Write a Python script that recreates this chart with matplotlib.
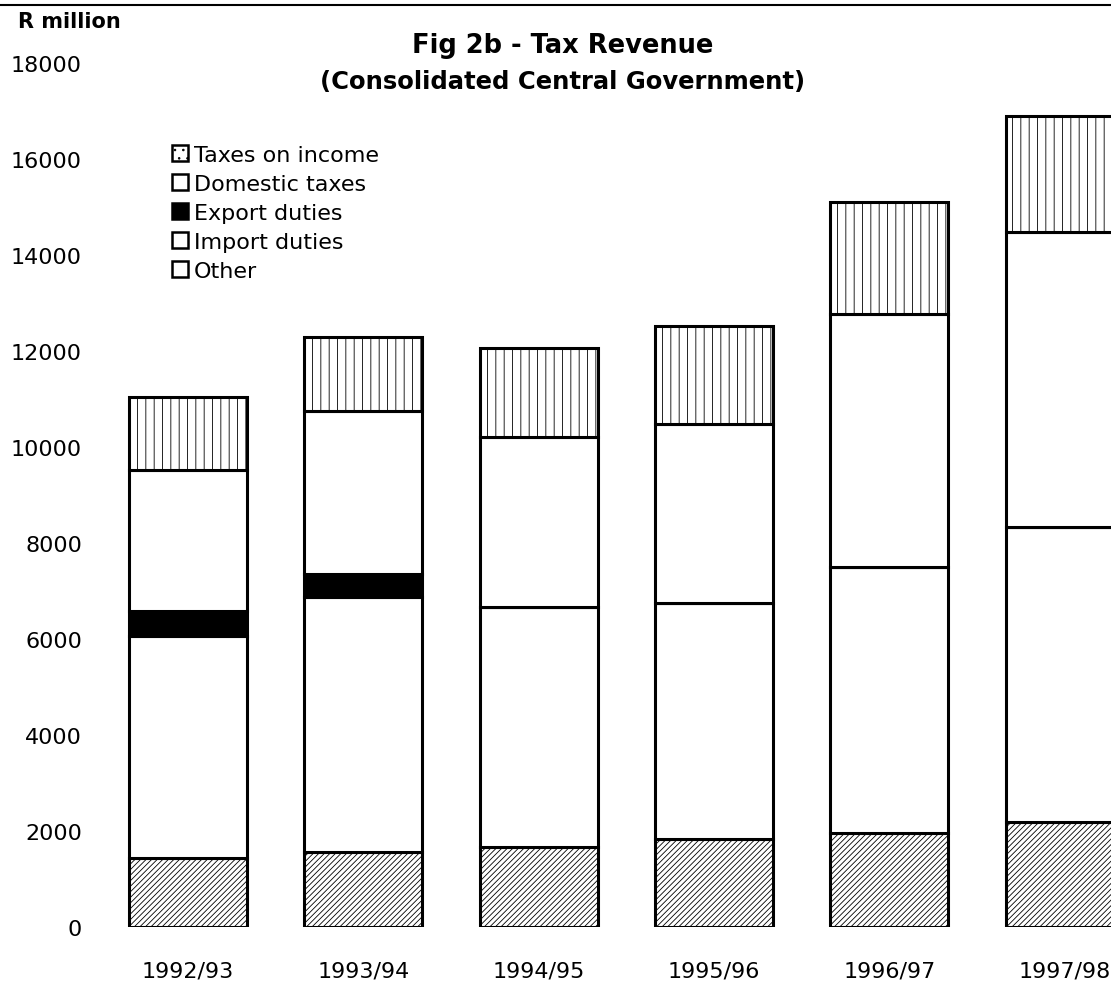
import matplotlib
matplotlib.use("Agg")
import matplotlib.pyplot as plt
from matplotlib.patches import Patch
from matplotlib.lines import Line2D
import numpy as np

plt.rcParams['font.family'] = ['DejaVu Sans']
plt.rcParams['hatch.linewidth'] = 0.6

categories = ["1992/93", "1993/94", "1994/95", "1995/96", "1996/97", "1997/98"]
other = [1440, 1560, 1670, 1830, 1960, 2190]
import_duties = [4620, 5315, 5000, 4920, 5540, 6140]
export_duties = [520, 480, 0, 0, 0, 0]
domestic_taxes = [2940, 3395, 3540, 3730, 5270, 6150]
taxes_on_income = [1520, 1540, 1850, 2040, 2330, 2420]
yticks = [0, 2000, 4000, 6000, 8000, 10000, 12000, 14000, 16000, 18000]

W, H = 1111, 987
fig = plt.figure(figsize=(W / 100, H / 100), dpi=100)
ax = fig.add_axes([100 / W, (H - 928) / H, 1 - 100 / W, (928 - 64) / H])

x = np.arange(len(categories))
bw = 0.673
lw = 2.2
bottom = np.zeros(len(categories))
series = [
    (other, "white", "//////"),
    (import_duties, "white", None),
    (export_duties, "black", None),
    (domestic_taxes, "white", None),
    (taxes_on_income, "white", "||"),
]
for vals, fc, hatch in series:
    vals = np.array(vals, dtype=float)
    ax.bar(x, vals, bw, bottom=bottom, color=fc, edgecolor="black",
           linewidth=lw, hatch=hatch, zorder=2)
    bottom += vals

ax.set_xlim(-0.502, 5.265)
ax.set_ylim(0, 18000)
ax.set_yticks(yticks)
ax.set_yticklabels([str(v) for v in yticks], fontsize=16)
ax.set_xticks(x)
ax.set_xticklabels(categories, fontsize=16)
ax.tick_params(axis='both', length=0)
ax.tick_params(axis='y', pad=13)
ax.tick_params(axis='x', pad=24)
for s in ax.spines.values():
    s.set_visible(False)

handles = [
    Patch(facecolor="white", edgecolor="black", linewidth=1.8, hatch=".."),
    Patch(facecolor="white", edgecolor="black", linewidth=1.8),
    Patch(facecolor="black", edgecolor="black", linewidth=1.8),
    Patch(facecolor="white", edgecolor="black", linewidth=1.8),
    Patch(facecolor="white", edgecolor="black", linewidth=1.8),
]
labels = ["Taxes on income", "Domestic taxes", "Export duties", "Import duties", "Other"]
fig.legend(handles, labels, loc="upper left", bbox_to_anchor=(172 / W, 1 - 146 / H),
           frameon=False, fontsize=16, handlelength=0.7, handleheight=0.7,
           handletextpad=0.3, labelspacing=0.4, borderaxespad=0, borderpad=0)

fig.text(563 / W, 1 - 46 / H, "Fig 2b - Tax Revenue", ha="center", va="center",
         fontsize=18.5, fontweight="bold")
fig.text(563 / W, 1 - 82 / H, "(Consolidated Central Government)", ha="center",
         va="center", fontsize=17.5, fontweight="bold")
fig.text(18 / W, 1 - 22 / H, "R million", ha="left", va="center", fontsize=15,
         fontweight="bold")

fig.add_artist(Line2D([0, 1], [1 - 6 / H, 1 - 6 / H], transform=fig.transFigure,
                      color="black", linewidth=1.5))

fig.savefig("out.png", dpi=100)
